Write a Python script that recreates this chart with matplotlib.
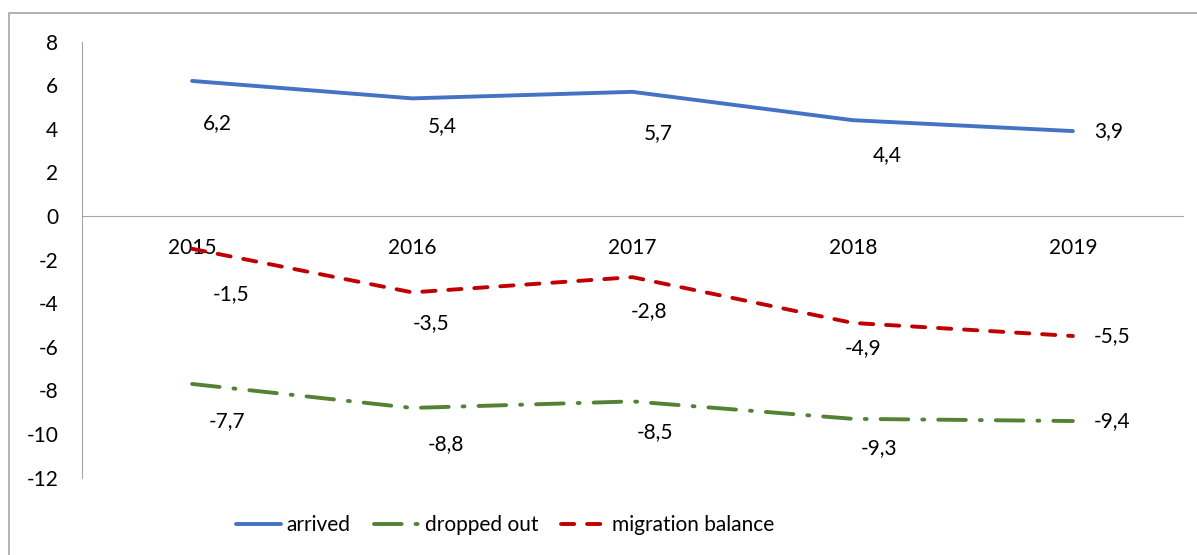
import matplotlib.pyplot as plt
from matplotlib.patches import Rectangle

years = ["2015", "2016", "2017", "2018", "2019"]
arrived = [6.2, 5.4, 5.7, 4.4, 3.9]
dropped_out = [-7.7, -8.8, -8.5, -9.3, -9.4]
migration_balance = [-1.5, -3.5, -2.8, -4.9, -5.5]

# label offsets in pixels relative to each point
arrived_off = [(25, -42), (30, -28), (26, -41), (35, -35), (36, 0)]
dropped_off = [(35, -37), (34, -36), (23, -31), (26, -29), (39, 0)]
balance_off = [(39, -45), (19, -31), (16, -34), (10, -25), (39, 0)]

plt.rcParams['font.family'] = ['Lato', 'DejaVu Sans']
plt.rcParams['axes.unicode_minus'] = False

fig = plt.figure(figsize=(11.97, 5.55), dpi=100)
fig.patches.append(Rectangle((9 / 1197, -0.1), 1.2, 1 - 13 / 555 + 0.1,
                             transform=fig.transFigure, fill=False,
                             edgecolor='#a6a6a6', linewidth=1.2))
ax = fig.add_axes([82 / 1197, 1 - 477.7 / 555, 1101 / 1197, 436 / 555])

x = list(range(len(years)))
ax.plot(x, arrived, color='#4472C4', linewidth=2.8, label='arrived',
        solid_capstyle='round', zorder=3)
ax.plot(x, dropped_out, color='#548235', linewidth=2.8, label='dropped out',
        dashes=(7.1, 3.6, 0.5, 3.6), dash_capstyle='round', zorder=3)
ax.plot(x, migration_balance, color='#C00000', linewidth=2.8,
        label='migration balance', dashes=(3.4, 3.3), dash_capstyle='round',
        zorder=3)

for vals, offs in [(arrived, arrived_off), (dropped_out, dropped_off),
                   (migration_balance, balance_off)]:
    for i, (v, o) in enumerate(zip(vals, offs)):
        ax.annotate(f"{v:.1f}".replace('.', ','), (i, v), xytext=o,
                    textcoords='offset pixels', ha='center', va='center',
                    fontsize=15)

ax.set_xlim(-0.5, 4.5)
ax.set_ylim(-12, 8)
ax.set_yticks(range(-12, 9, 2))
ax.set_xticks(x)
ax.set_xticklabels(years)
ax.tick_params(axis='both', length=0, labelsize=15)
ax.tick_params(axis='y', pad=17)
ax.tick_params(axis='x', pad=16)

for side in ['top', 'right']:
    ax.spines[side].set_visible(False)
ax.spines['bottom'].set_position(('data', 0))
ax.spines['bottom'].set_color('#a6a6a6')
ax.spines['left'].set_color('#a6a6a6')
ax.spines['bottom'].set_zorder(1)

ax.legend(loc='center', bbox_to_anchor=(505 / 1197, (555 - 525) / 555),
          bbox_transform=fig.transFigure, ncol=3, frameon=False,
          fontsize=15, handlelength=2.2, columnspacing=1.1, handletextpad=0.25)

plt.savefig('out.png', dpi=100)
